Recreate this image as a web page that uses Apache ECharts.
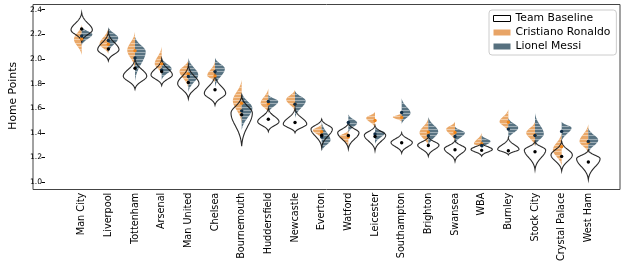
<!DOCTYPE html>
<html><head><meta charset="utf-8">
<script src="https://cdn.jsdelivr.net/npm/echarts@6/dist/echarts.min.js"></script>
<style>html,body{margin:0;padding:0;background:#fff}#c{width:631px;height:264px}</style>
</head><body><div id="c"></div>
<script>
// ---- data ----
const teams = ['Man City','Liverpool','Tottenham','Arsenal','Man United','Chelsea','Bournemouth','Huddersfield','Newcastle','Everton','Watford','Leicester','Southampton','Brighton','Swansea','WBA','Burnley','Stock City','Crystal Palace','West Ham'];
const yTicks = [1.0, 1.2, 1.4, 1.6, 1.8, 2.0, 2.2, 2.4];

// Team baseline violin: low tail, density peak, high tail, relative width, mean
const baseLow  = [2.14,1.984,1.754,1.784,1.676,1.624,1.29,1.41,1.40,1.28,1.268,1.254,1.235,1.21,1.168,1.21,1.22,1.10,1.09,1.02];
const baseMode = [2.235,2.075,1.86,1.87,1.80,1.72,1.56,1.49,1.47,1.43,1.40,1.38,1.32,1.30,1.27,1.265,1.265,1.26,1.22,1.19];
const baseHigh = [2.376,2.22,2.00,2.00,1.95,1.87,1.70,1.60,1.60,1.51,1.48,1.46,1.40,1.37,1.34,1.32,1.36,1.33,1.33,1.26];
const baseWidth= [0.40,0.40,0.44,0.40,0.40,0.40,0.40,0.40,0.44,0.40,0.40,0.40,0.40,0.40,0.40,0.40,0.40,0.40,0.40,0.44];
const baseMean = [2.243,2.081,1.924,1.897,1.808,1.749,1.546,1.51,1.484,1.38,1.378,1.37,1.319,1.297,1.262,1.257,1.254,1.246,1.208,1.162];

// Cristiano Ronaldo (left half)
const ronLow  = [2.03,2.04,1.92,1.87,1.76,1.81,1.48,1.56,1.57,1.35,1.29,1.44,1.49,1.29,1.33,1.28,1.41,1.29,1.13,1.235];
const ronMode = [2.16,2.12,2.07,1.96,1.90,1.865,1.66,1.64,1.67,1.42,1.37,1.52,1.527,1.40,1.43,1.31,1.49,1.40,1.26,1.33];
const ronHigh = [2.28,2.25,2.22,2.10,1.99,1.98,1.83,1.76,1.75,1.47,1.42,1.57,1.56,1.52,1.49,1.40,1.59,1.49,1.40,1.47];
const ronWidth= [0.29,0.33,0.29,0.26,0.33,0.29,0.33,0.29,0.33,0.33,0.33,0.33,0.33,0.33,0.33,0.29,0.33,0.33,0.33,0.33];
const ronMean = [2.162,2.119,2.067,1.96,1.878,1.862,1.64,1.635,1.632,1.408,1.365,1.50,1.524,1.405,1.403,1.311,1.486,1.38,1.286,1.322];

// Lionel Messi (right half)
const mesLow  = [2.11,2.05,1.82,1.83,1.73,1.77,1.42,1.56,1.52,1.25,1.40,1.31,1.47,1.29,1.31,1.27,1.35,1.29,1.33,1.235];
const mesMode = [2.20,2.17,2.06,1.92,1.87,1.92,1.60,1.655,1.66,1.34,1.48,1.40,1.56,1.41,1.40,1.33,1.44,1.39,1.44,1.34];
const mesHigh = [2.26,2.26,2.18,2.01,2.01,2.01,1.73,1.71,1.74,1.49,1.55,1.44,1.68,1.53,1.45,1.38,1.52,1.56,1.49,1.44];
const mesWidth= [0.40,0.37,0.40,0.37,0.37,0.37,0.40,0.37,0.40,0.33,0.33,0.37,0.33,0.37,0.37,0.33,0.37,0.33,0.37,0.37];
const mesMean = [2.186,2.149,2.008,1.91,1.857,1.897,1.578,1.654,1.632,1.365,1.484,1.39,1.565,1.376,1.37,1.297,1.43,1.378,1.411,1.33];

// ---- drawing helpers ----
const ORANGE = 'rgba(232,158,88,0.9)';
const BLUE = 'rgba(70,100,116,0.9)';
function prof(low, mode, high, w, v, k) {
  if (v <= low || v >= high) return 0;
  const t = v < mode ? (v - low) / (mode - low) : (high - v) / (high - mode);
  const e = Math.exp(-k * k);
  return w * (Math.exp(-k * k * (1 - t) * (1 - t)) - e) / (1 - e);
}
function outline(api, i, low, mode, high, w, side, k) {
  const band = api.size([1, 0])[0];
  const cx = api.coord([i, mode])[0];
  const N = 48, right = [], left = [];
  for (let j = 0; j <= N; j++) {
    const v = low + (high - low) * j / N;
    const y = api.coord([i, v])[1];
    const hw = prof(low, mode, high, w, v, k) * band;
    right.push([cx + hw, y]); left.push([cx - hw, y]);
  }
  if (side === 0) return right.concat(left.reverse());
  return side > 0 ? right : left;
}
function halfViolin(api, i, low, mode, high, w, side, fill) {
  const band = api.size([1, 0])[0];
  const cx = api.coord([i, mode])[0];
  const pts = outline(api, i, low, mode, high, w, side, 1.7);
  const children = [{type: 'polygon', shape: {points: pts}, style: {fill: fill, stroke: null}}];
  const step = 0.026;
  for (let v = Math.ceil(low / step) * step; v < high; v += step) {
    const hw = prof(low, mode, high, w, v, 1.7) * band;
    if (hw < 1) continue;
    const y = Math.round(api.coord([i, v])[1]) + 0.5;
    children.push({type: 'line', shape: {x1: cx, y1: y, x2: cx + side * hw, y2: y},
      style: {stroke: 'rgba(255,255,255,0.6)', lineWidth: 0.7}});
  }
  return children;
}
function dot(api, i, v, color) {
  const p = api.coord([i, v]);
  return {type: 'circle', shape: {cx: p[0], cy: p[1], r: 1.7}, style: {fill: color}};
}

const font = 'DejaVu Sans';
const chart = echarts.init(document.getElementById('c'), null, {renderer: 'canvas'});
const idx = teams.map((t, i) => [i]);
chart.setOption({
  animation: false,
  textStyle: {fontFamily: font},
  grid: [
    {left: 33, right: 11, top: 4.5, bottom: 74.5, show: true, borderColor: '#444', borderWidth: 1, backgroundColor: '#fff'},
    {left: 56.37, width: 545.3, top: 9.67, bottom: 81.7}
  ],
  xAxis: [
    {gridIndex: 0, type: 'value', show: false, min: 0, max: 1},
    {gridIndex: 1, type: 'category', data: teams, offset: 7.2,
      axisLine: {show: false}, axisTick: {alignWithLabel: true, length: 3.5, lineStyle: {color: '#000'}},
      axisLabel: {rotate: 90, fontSize: 9.7, color: '#000', margin: 3.5, fontFamily: font}}
  ],
  yAxis: [
    {gridIndex: 0, type: 'value', show: false, min: 0, max: 1},
    {gridIndex: 1, type: 'value', min: yTicks[0], max: yTicks[yTicks.length - 1], interval: 0.2, offset: 23.37,
      axisLine: {show: false}, axisTick: {show: true, length: 3.5, lineStyle: {color: '#000'}},
      splitLine: {show: false},
      axisLabel: {fontSize: 7.6, color: '#000', margin: 3, formatter: v => v.toFixed(1), fontFamily: font},
      name: 'Home Points', nameLocation: 'middle', nameGap: 17,
      nameTextStyle: {fontSize: 10.8, color: '#000', fontFamily: font}}
  ],
  legend: {
    left: 489, top: 10, orient: 'vertical', padding: [3, 6, 3, 4], itemGap: 3, itemWidth: 17, itemHeight: 6,
    itemTextGap: 11, icon: 'rect', borderColor: '#ccc', borderWidth: 1, borderRadius: 3, backgroundColor: '#fff',
    textStyle: {fontSize: 10.8, color: '#000', fontFamily: font},
    data: [
      {name: 'Team Baseline', itemStyle: {color: '#fff', borderColor: '#000', borderWidth: 1}},
      {name: 'Cristiano Ronaldo', itemStyle: {color: '#e8a466'}},
      {name: 'Lionel Messi', itemStyle: {color: '#56707f'}}
    ]
  },
  series: [
    {type: 'custom', name: 'Team Baseline', xAxisIndex: 1, yAxisIndex: 1, data: idx, z: 2,
      itemStyle: {color: '#fff', borderColor: '#000'},
      renderItem: (p, api) => {
        const i = api.value(0);
        return {type: 'polygon', shape: {points: outline(api, i, baseLow[i], baseMode[i], baseHigh[i], baseWidth[i], 0, 1.85)},
          style: {fill: '#fff', stroke: null}};
      }},
    {type: 'custom', name: 'Cristiano Ronaldo', xAxisIndex: 1, yAxisIndex: 1, data: idx, z: 3,
      itemStyle: {color: '#e8a466'},
      renderItem: (p, api) => {
        const i = api.value(0);
        return {type: 'group', children: halfViolin(api, i, ronLow[i], ronMode[i], ronHigh[i], ronWidth[i], -1, ORANGE)};
      }},
    {type: 'custom', name: 'Lionel Messi', xAxisIndex: 1, yAxisIndex: 1, data: idx, z: 3,
      itemStyle: {color: '#56707f'},
      renderItem: (p, api) => {
        const i = api.value(0);
        return {type: 'group', children: halfViolin(api, i, mesLow[i], mesMode[i], mesHigh[i], mesWidth[i], 1, BLUE)};
      }},
    {type: 'custom', name: 'outlines', xAxisIndex: 1, yAxisIndex: 1, data: idx, z: 4, silent: true,
      renderItem: (p, api) => {
        const i = api.value(0);
        return {type: 'group', children: [
          {type: 'polygon', shape: {points: outline(api, i, baseLow[i], baseMode[i], baseHigh[i], baseWidth[i], 0, 1.85)},
            style: {fill: null, stroke: '#111', lineWidth: 1.1, opacity: 0.9}},
          dot(api, i, ronMean[i], '#f08519'),
          dot(api, i, mesMean[i], '#0f2c45'),
          dot(api, i, baseMean[i], '#000')
        ]};
      }}
  ]
});
</script></body></html>
